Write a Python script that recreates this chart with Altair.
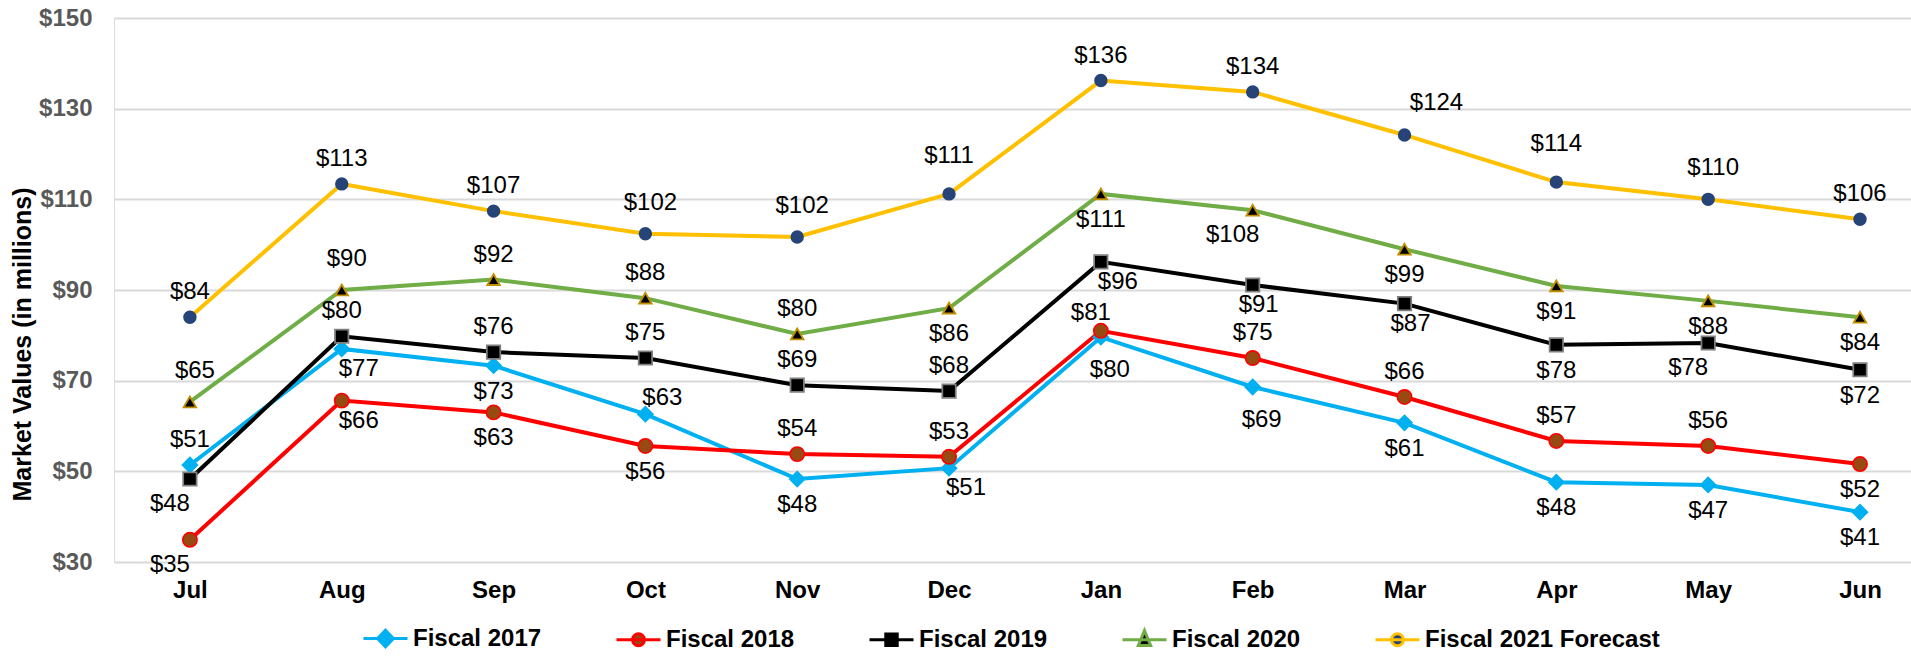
import json
import altair as alt
import pandas as pd

FONT = "Liberation Sans, Arial, sans-serif"

months = ["Jul", "Aug", "Sep", "Oct", "Nov", "Dec", "Jan", "Feb", "Mar", "Apr", "May", "Jun"]
series_names = ["Fiscal 2017", "Fiscal 2018", "Fiscal 2019", "Fiscal 2020", "Fiscal 2021 Forecast"]

# Market values ($ millions)
fy2017 = [51.4, 77.0, 73.3, 62.6, 48.3, 50.7, 79.6, 68.6, 60.7, 47.6, 47.0, 41.0]
fy2018 = [34.9, 65.6, 63.0, 55.6, 53.8, 53.2, 81.0, 75.0, 66.4, 56.7, 55.6, 51.6]
fy2019 = [48.3, 79.8, 76.3, 75.0, 69.0, 67.7, 96.2, 91.1, 87.0, 77.9, 78.3, 72.4]
fy2020 = [65.3, 90.0, 92.3, 88.2, 80.3, 86.0, 111.2, 107.6, 99.0, 90.9, 87.6, 84.0]
fy2021 = [84.0, 113.4, 107.4, 102.4, 101.7, 111.2, 136.2, 133.7, 124.2, 113.8, 110.0, 105.6]
values = [fy2017, fy2018, fy2019, fy2020, fy2021]

# data-label placement codes (style only)
pos2017 = ["a", "br", "b", "ar", "b", "br", "B", "B", "b", "b", "b", "b"]
pos2018 = ["bl", "br", "b", "b", "a", "a", "al", "a", "a", "a", "a", "b"]
pos2019 = ["bl", "a", "a", "a", "a", "a", "br", "bs", "bs", "b", "bl", "b"]
pos2020 = ["A", "A", "a", "a", "a", "b", "b", "bl", "b", "b", "b", "b"]
pos2021 = ["a", "a", "a", "A", "A", "A2", "a", "a", "ar2", "A2", "A", "a"]
positions = [pos2017, pos2018, pos2019, pos2020, pos2021]

placement = {
    "a": (0, -25), "A": (5, -31), "A2": (0, -38), "b": (0, 26), "B": (9, 33),
    "bs": (6, 20), "bl": (-20, 25), "br": (17, 20), "ar": (17, -16),
    "ar2": (32, -32), "al": (-10, -18),
}

line_colors = ["#00B0F0", "#FF0000", "#000000", "#70AD47", "#FFC000"]
marker_fill = ["#00B0F0", "#974B12", "#000000", "#000000", "#264478"]
marker_stroke = ["#00B0F0", "#FF0000", "#7F7F7F", "#BF8F00", "#264478"]
marker_shape = ["diamond", "circle", "square", "triangle-up", "circle"]
marker_size = [230, 130, 130, 240, 130]
marker_sw = [1.5, 2, 1.5, 1.5, 0.5]

LINE = "M-1,0L1,0"
legend_paths = [
    LINE + "M0,-0.38L0.36,0L0,0.38L-0.36,0Z",
    LINE + "M0.27,0A0.27,0.27,0,1,1,-0.27,0A0.27,0.27,0,1,1,0.27,0Z",
    LINE + "M-0.26,-0.26L0.26,-0.26L0.26,0.26L-0.26,0.26Z",
    LINE + "M0,-0.42L0.28,0.26L-0.28,0.26Z",
    LINE + "M0.27,0A0.27,0.27,0,1,1,-0.27,0A0.27,0.27,0,1,1,0.27,0Z",
]

rows = []
for s, vals, poss in zip(series_names, values, positions):
    for i, (m, v, p) in enumerate(zip(months, vals, poss)):
        rows.append({"month": m, "idx": i, "series": s, "value": v, "pos": p})
df = pd.DataFrame(rows)

base = alt.Chart(df)

x_enc = alt.X(
    "idx:Q",
    scale=alt.Scale(domain=[-0.5, 11.336], nice=False, zero=False),
    axis=alt.Axis(
        values=list(range(len(months))),
        labelExpr=json.dumps(months) + "[datum.value]",
        title=None, labelFontSize=24, labelFontWeight="bold", labelColor="black",
        labelFont=FONT, ticks=False, domain=False, labelPadding=16, labelAngle=0, grid=False,
        labelFlush=False, labelOverlap=False,
    ),
)
y_enc = alt.Y(
    "value:Q",
    scale=alt.Scale(domain=[30, 150], nice=False, zero=False),
    axis=alt.Axis(
        values=[30, 50, 70, 90, 110, 130, 150],
        labelExpr="'$' + datum.value",
        labelFontSize=24, labelFontWeight="bold", labelColor="#595959", labelFont=FONT,
        ticks=False, tickSize=0, domain=False, labelPadding=22,
        grid=True, gridColor="#D9D9D9", gridWidth=2,
        title="Market Values (in millions)", titleFontSize=25, titleFontWeight="bold",
        titleColor="black", titleFont=FONT, titleX=-92, titleY=326,
        titleBaseline="middle", titleAlign="center", titleAngle=270,
    ),
)

lines = base.mark_line(strokeWidth=4).encode(
    x=x_enc, y=y_enc,
    stroke=alt.Stroke("series:N", scale=alt.Scale(domain=series_names, range=line_colors), legend=None),
    detail="series:N",
)

points = base.mark_point(filled=True, opacity=1).encode(
    x=x_enc, y=y_enc,
    shape=alt.Shape("series:N", scale=alt.Scale(domain=series_names, range=marker_shape), legend=None),
    fill=alt.Fill("series:N", scale=alt.Scale(domain=series_names, range=marker_fill), legend=None),
    stroke=alt.Stroke("series:N", scale=alt.Scale(domain=series_names, range=marker_stroke), legend=None),
    size=alt.Size("series:N", scale=alt.Scale(domain=series_names, range=marker_size), legend=None),
    strokeWidth=alt.StrokeWidth("series:N", scale=alt.Scale(domain=series_names, range=marker_sw), legend=None),
)

texts = []
for code, (dx, dy) in placement.items():
    texts.append(
        base.transform_filter(alt.datum.pos == code)
        .transform_calculate(label="'$' + format(datum.value, '.0f')")
        .mark_text(dx=dx, dy=dy, fontSize=24, font=FONT, color="black", baseline="middle", align="center")
        .encode(x=x_enc, y=y_enc, text="label:N")
    )

leg = alt.Legend(
    title=None, orient="none", legendX=248, legendY=597, direction="horizontal",
    symbolSize=1936, symbolStrokeWidth=3, labelFontSize=24, labelFontWeight="bold",
    labelFont=FONT, labelColor="black", labelOffset=4, columnPadding=68, padding=0,
    labelLimit=400,
)
legend_layer = base.transform_filter("false").mark_point(filled=True, opacity=1).encode(
    shape=alt.Shape("series:N", scale=alt.Scale(domain=series_names, range=legend_paths), legend=leg),
    fill=alt.Fill("series:N", scale=alt.Scale(domain=series_names, range=marker_fill), legend=leg),
    stroke=alt.Stroke("series:N", scale=alt.Scale(domain=series_names, range=line_colors), legend=leg),
)

chart = (
    alt.layer(lines, points, *texts, legend_layer)
    .resolve_scale(shape="independent", fill="independent", stroke="independent",
                   size="independent", strokeWidth="independent")
    .properties(
        width=1797, height=544,
        autosize=alt.AutoSizeParams(type="none"),
        padding={"left": 114, "top": 18, "right": 0, "bottom": 94},
    )
    .configure_view(strokeWidth=0, stroke="transparent")
    .configure_axis(domain=False, ticks=False)
    .configure(background="white")
)

chart.save("out.html", embed_options={"renderer": "svg", "actions": False})
